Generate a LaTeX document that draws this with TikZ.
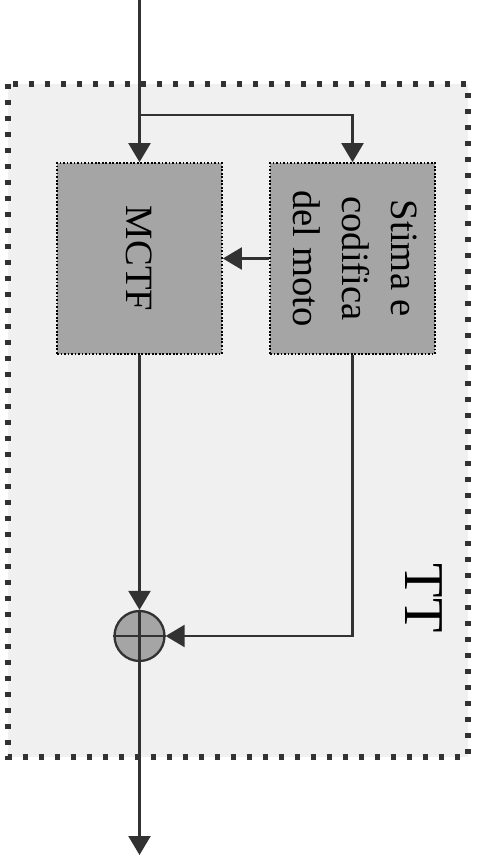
\documentclass[tikz,border=0pt]{standalone}
\usepackage{fontspec}
\setmainfont{Liberation Serif}
\usetikzlibrary{arrows.meta}
\definecolor{boxgray}{RGB}{165,165,165}
\definecolor{bggray}{RGB}{240,240,240}
\definecolor{linegray}{RGB}{50,50,50}
\begin{document}
\begin{tikzpicture}[x=0.02cm,y=-0.02cm,
  arr/.style={draw=linegray,line width=1.3pt,-{Triangle[width=0.44cm,length=0.38cm]}},
  blockbox/.style={draw=black,densely dotted,line width=1pt,fill=boxgray,
    minimum width=3.3cm,minimum height=3.82cm,inner sep=0pt,
    font=\fontsize{22}{28}\selectfont},
  outerbox/.style={draw=linegray,line width=0.11cm,dash pattern=on 0.11cm off 0.21cm,fill=bggray},
  sumnode/.style={circle,draw=linegray,line width=1.3pt,fill=boxgray,minimum size=1cm,inner sep=0pt}]
\useasboundingbox (0,0) rectangle (482,855);
\draw[outerbox] (8,84) rectangle (468,757);
\node[blockbox] (mctf) at (139.5,258.5) {\rotatebox{-90}{MCTF}};
\node[blockbox] (stima) at (352.5,258.5) {\rotatebox{-90}{\begin{tabular}{@{}c@{}}Stima e\\codifica\\del moto\end{tabular}}};
\node[sumnode] (sum) at (139.5,636) {};
\draw[linegray,line width=1.3pt] (sum.north) -- (sum.south) (sum.west) -- (sum.east);
\node[rotate=-90,font=\fontsize{32}{36}\selectfont] (tt) at (424,598) {TT};
\coordinate (in) at (139.5,0);
\coordinate (br) at (139.5,115);
\coordinate (out) at (139.5,855);
\draw[arr] (in) -- (mctf.north);
\draw[arr] (br) -| (stima.north);
\draw[arr] (stima.west) -- (mctf.east);
\draw[arr] (mctf.south) -- (sum.north);
\draw[arr] (stima.south) |- (sum.east);
\draw[arr] (sum.south) -- (out);
\end{tikzpicture}
\end{document}
